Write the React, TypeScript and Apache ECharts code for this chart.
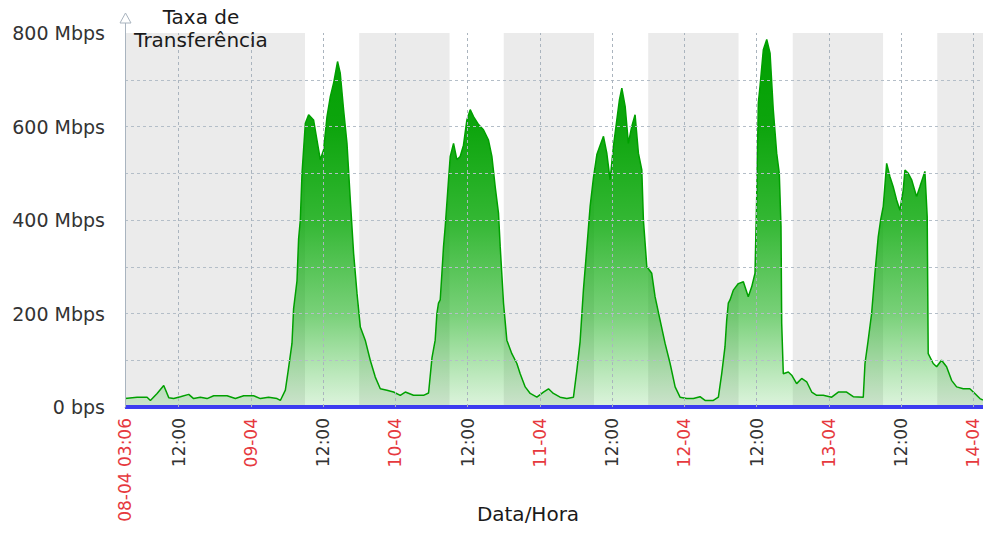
import React, { useEffect, useRef } from "react";
import * as echarts from "echarts";

// Traffic (Mbps) per day of April 2018, as [time of day, value]
const day08: [string, number][] = [
  ["03:06", 18], ["05:07", 21], ["06:46", 21], ["07:19", 14], ["08:26", 29], ["09:32", 46],
  ["10:22", 20], ["11:11", 18], ["12:18", 22], ["13:41", 27], ["14:30", 18], ["15:37", 21],
  ["16:44", 18], ["17:50", 24], ["20:03", 24], ["21:26", 18], ["22:49", 24],
];
const day09: [string, number][] = [
  ["00:28", 24], ["01:35", 18], ["02:57", 21], ["04:21", 18], ["04:54", 14], ["05:44", 36],
  ["06:13", 79], ["06:50", 136], ["07:06", 210], ["07:40", 270], ["07:56", 360], ["08:13", 400],
  ["08:30", 500], ["09:03", 607], ["09:36", 625], ["10:25", 614], ["10:59", 571], ["11:32", 529],
  ["12:05", 550], ["12:39", 621], ["13:12", 664], ["13:45", 693], ["14:24", 739], ["14:51", 714],
  ["15:24", 636], ["15:58", 564], ["16:31", 443], ["17:04", 329], ["17:38", 243], ["18:11", 171],
  ["19:00", 143], ["19:50", 100], ["20:40", 64], ["21:30", 39], ["22:36", 36], ["23:42", 32],
];
const day10: [string, number][] = [
  ["00:49", 25], ["01:39", 32], ["03:01", 25], ["04:41", 25], ["05:31", 30], ["06:05", 105],
  ["06:37", 143], ["06:54", 200], ["07:10", 222], ["07:27", 229], ["07:44", 286], ["08:00", 343],
  ["08:17", 386], ["08:50", 486], ["09:07", 536], ["09:40", 564], ["10:13", 529], ["10:46", 536],
  ["11:19", 560], ["11:53", 614], ["12:26", 636], ["12:59", 621], ["13:49", 604], ["14:38", 593],
  ["15:28", 571], ["16:02", 536], ["16:35", 471], ["17:08", 414], ["17:25", 343], ["17:58", 222],
  ["18:31", 143], ["19:21", 114], ["20:11", 93], ["20:44", 71], ["21:34", 43], ["22:24", 29],
  ["23:30", 21],
];
const day11: [string, number][] = [
  ["00:36", 32], ["01:26", 39], ["02:15", 29], ["03:22", 21], ["04:29", 18], ["05:35", 21],
  ["06:09", 79], ["06:41", 140], ["07:14", 250], ["07:48", 340], ["08:21", 429], ["08:54", 490],
  ["09:28", 540], ["10:01", 560], ["10:34", 579], ["11:07", 543], ["11:40", 486], ["12:13", 557],
  ["12:47", 614], ["13:13", 657], ["13:37", 682], ["14:10", 643], ["14:42", 564], ["15:16", 600],
  ["15:49", 625], ["16:22", 543], ["16:56", 507], ["17:12", 400], ["17:46", 300], ["18:35", 286],
  ["19:08", 236], ["19:58", 186], ["20:48", 136], ["21:38", 93], ["22:28", 43], ["23:17", 21],
];
const day12: [string, number][] = [
  ["00:24", 18], ["01:30", 18], ["02:36", 22], ["03:26", 14], ["04:49", 14], ["05:39", 21],
  ["06:12", 71], ["06:45", 129], ["07:02", 186], ["07:18", 222], ["07:35", 229], ["08:08", 250],
  ["08:58", 264], ["09:48", 268], ["10:37", 236], ["11:11", 257], ["11:44", 286], ["12:01", 450],
  ["12:17", 650], ["12:34", 686], ["13:07", 764], ["13:41", 786], ["14:14", 757], ["14:46", 636],
  ["15:20", 543], ["15:46", 500], ["16:03", 386], ["16:10", 179], ["16:26", 71], ["17:16", 75],
  ["17:50", 68], ["18:39", 50], ["19:29", 61], ["20:19", 54], ["21:09", 32], ["21:59", 25],
  ["23:04", 25],
];
const day13: [string, number][] = [
  ["00:28", 21], ["01:34", 32], ["02:57", 32], ["04:03", 22], ["05:43", 21], ["06:00", 93],
  ["06:32", 143], ["07:06", 200], ["07:39", 286], ["08:12", 364], ["08:36", 400], ["09:02", 429],
  ["09:36", 521], ["10:08", 493], ["10:41", 471], ["11:15", 443], ["11:48", 421], ["12:21", 464],
  ["12:38", 507], ["13:11", 500], ["13:45", 486], ["14:34", 450], ["15:07", 471], ["15:57", 504],
  ["16:20", 407], ["16:30", 114], ["17:20", 93], ["17:54", 86], ["18:43", 100], ["19:33", 86],
  ["20:23", 57], ["21:13", 43], ["22:19", 39], ["23:25", 39],
];
const day14: [string, number][] = [["00:15", 29], ["01:05", 18], ["01:35", 15]];

const days: [number, [string, number][]][] = [
  [8, day08], [9, day09], [10, day10], [11, day11], [12, day12], [13, day13], [14, day14],
];

// axis range and labels ("day hh:mm", April 2018)
const rangeStart = "08 03:06";
const rangeEnd = "14 01:36";
const tickTimes = [
  "08 03:06", "08 12:00", "09 00:00", "09 12:00", "10 00:00", "10 12:00", "11 00:00",
  "11 12:00", "12 00:00", "12 12:00", "13 00:00", "13 12:00", "14 00:00",
];
// non-working periods (gray background)
const offHours: [string, string][] = [
  ["08 03:06", "09 09:00"], ["09 18:00", "10 09:00"], ["10 18:00", "11 09:00"],
  ["11 18:00", "12 09:00"], ["12 18:00", "13 09:00"], ["13 18:00", "14 01:36"],
];

const FONT = "DejaVu Sans";

function ts(day: number, hhmm: string): number {
  const [h, m] = hhmm.split(":").map(Number);
  return new Date(2018, 3, day, h, m).getTime();
}
function tsStr(s: string): number {
  const [d, hm] = s.split(" ");
  return ts(Number(d), hm);
}
const pad = (n: number) => (n < 10 ? "0" + n : "" + n);

export default function App() {
  const ref = useRef<HTMLDivElement>(null);
  useEffect(() => {
    if (!ref.current) return;
    const chart = echarts.init(ref.current, null, { renderer: "svg" });
    const traffic: [number, number][] = [];
    days.forEach(([d, arr]) => arr.forEach(([t, v]) => traffic.push([ts(d, t), v])));
    const xMin = tsStr(rangeStart);
    const xMax = tsStr(rangeEnd);
    const grid = "#b4bec8";

    const option: any = {
      animation: false,
      textStyle: { fontFamily: FONT },
      grid: { left: 125, right: 0, top: 33, bottom: 133 },
      xAxis: {
        type: "value",
        min: xMin,
        max: xMax,
        axisLine: { show: true, onZero: false, lineStyle: { color: "#a9b4bf" } },
        axisTick: { show: false },
        splitLine: { show: false },
        axisLabel: {
          customValues: tickTimes.map(tsStr),
          rotate: 90,
          margin: 11,
          hideOverlap: false,
          formatter: (val: number) => {
            const d = new Date(val);
            const dd = pad(d.getDate()) + "-" + pad(d.getMonth() + 1);
            if (val === xMin) return "{r|" + dd + " " + pad(d.getHours()) + ":" + pad(d.getMinutes()) + "}";
            if (d.getHours() === 0) return "{r|" + dd + "}";
            return "{k|" + pad(d.getHours()) + ":" + pad(d.getMinutes()) + "}";
          },
          rich: {
            r: { color: "#e6393e", fontSize: 17, fontFamily: FONT },
            k: { color: "#333333", fontSize: 17, fontFamily: FONT },
          },
        },
      },
      yAxis: {
        type: "value",
        min: 0,
        max: 800,
        interval: 200,
        z: 5,
        axisLine: { show: true, lineStyle: { color: "#a9b4bf" } },
        axisTick: { show: false },
        axisLabel: {
          color: "#333333",
          fontSize: 19,
          fontFamily: FONT,
          margin: 20,
          formatter: (v: number) => (v === 0 ? "0 bps" : v + " Mbps"),
        },
        splitLine: { show: true, showMinLine: false, showMaxLine: false, lineStyle: { color: grid, type: [3, 3] } },
        minorTick: { show: false, splitNumber: 2 },
        minorSplitLine: { show: true, lineStyle: { color: grid, type: [3, 3] } },
      },
      series: [
        {
          type: "line",
          name: "bg",
          z: 1,
          silent: true,
          symbol: "none",
          data: [[xMin, 0], [xMax, 0]],
          lineStyle: { opacity: 0 },
          markArea: {
            silent: true,
            itemStyle: { color: "#ebebeb" },
            data: offHours.map(([a, b]) => [{ xAxis: tsStr(a) }, { xAxis: tsStr(b) }]),
          },
        },
        {
          type: "line",
          name: "Taxa de Transferência",
          z: 2,
          symbol: "none",
          showSymbol: false,
          data: traffic,
          lineStyle: { color: "#00a000", width: 1.5 },
          areaStyle: {
            opacity: 1,
            color: new echarts.graphic.LinearGradient(
              0, 33, 0, 407,
              [
                { offset: 0, color: "rgba(0,160,0,1)" },
                { offset: 0.25, color: "rgba(0,160,0,0.95)" },
                { offset: 0.5, color: "rgba(0,165,0,0.8)" },
                { offset: 0.75, color: "rgba(10,170,10,0.55)" },
                { offset: 1, color: "rgba(30,180,30,0.15)" },
              ],
              true
            ),
          },
        },
        {
          type: "line",
          name: "zero",
          z: 3,
          clip: false,
          symbol: "none",
          data: [[xMin, 0], [xMax, 0]],
          lineStyle: { color: "#3c3cf0", width: 4 },
        },
        {
          type: "line",
          name: "vgrid",
          z: 4,
          silent: true,
          symbol: "none",
          data: [[xMin, 0]],
          lineStyle: { opacity: 0 },
          markLine: {
            silent: true,
            symbol: ["none", "none"],
            label: { show: false },
            lineStyle: { color: "#aab4be", type: [3, 3], width: 1 },
            emphasis: { disabled: true },
            data: tickTimes.slice(1).map((t) => ({ xAxis: tsStr(t) })),
          },
        },
      ],
      graphic: [
        {
          type: "line",
          z: 100,
          shape: { x1: 125.5, y1: 33, x2: 125.5, y2: 23 },
          style: { stroke: "#a9b4bf", lineWidth: 1 },
        },
        {
          type: "polygon",
          z: 100,
          shape: { points: [[125.5, 13], [131, 23], [120, 23]] },
          style: { fill: "#ffffff", stroke: "#a9b4bf", lineWidth: 1 },
        },
        {
          type: "text",
          z: 100,
          x: 201,
          y: 5,
          style: {
            text: "Taxa de\nTransferência",
            fill: "#1a1a1a",
            font: "20px '" + FONT + "'",
            align: "center",
            verticalAlign: "top",
            lineHeight: 23,
          },
        },
        {
          type: "text",
          z: 100,
          x: 528,
          y: 514,
          style: {
            text: "Data/Hora",
            fill: "#1a1a1a",
            font: "20px '" + FONT + "'",
            align: "center",
            verticalAlign: "middle",
          },
        },
      ],
    };
    chart.setOption(option);
    return () => chart.dispose();
  }, []);
  return (
    <div
      ref={ref}
      style={{ position: "fixed", left: 0, top: 0, width: 983, height: 540, background: "#ffffff" }}
    />
  );
}
